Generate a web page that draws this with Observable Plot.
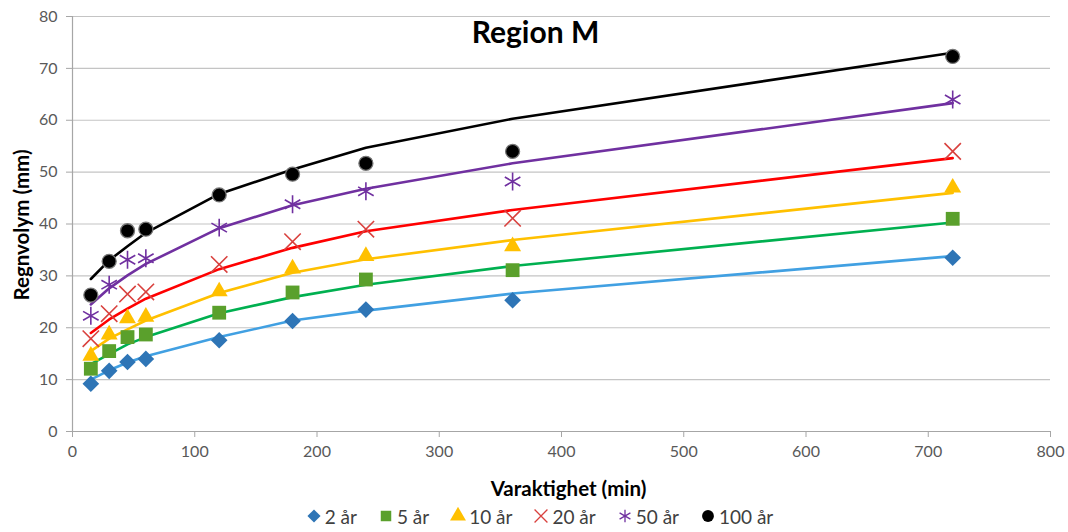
<!DOCTYPE html>
<html><head><meta charset="utf-8">
<script src="https://cdn.jsdelivr.net/npm/d3@7"></script>
<script src="https://cdn.jsdelivr.net/npm/@observablehq/plot@0.6"></script>
<style>
body{margin:0;background:#fff;font-family:Lato,"Open Sans",sans-serif;}
#chart svg{display:block;}
#legend{display:flex;justify-content:center;align-items:center;height:32px;font-family:Lato,"Open Sans",sans-serif;font-size:19px;color:#404040;margin-left:10px;}
#legend .item{display:flex;align-items:center;margin:0 10px;}
#legend svg{margin-right:2px;}
</style></head><body>
<div id="chart"></div>
<div id="legend"></div>
<script>
// Data
const durations = [15, 30, 45, 60, 120, 180, 240, 360, 720];
const seriesNames = ["2 år", "5 år", "10 år", "20 år", "50 år", "100 år"];
const obs2   = [9.2, 11.7, 13.4, 14.0, 17.6, 21.3, 23.5, 25.3, 33.5];
const obs5   = [12.1, 15.5, 18.2, 18.7, 22.9, 26.8, 29.3, 31.1, 41.0];
const obs10  = [14.6, 18.7, 21.8, 22.1, 27.0, 31.4, 33.8, 35.7, 47.0];
const obs20  = [17.9, 22.7, 26.5, 26.9, 32.2, 36.6, 39.0, 41.1, 54.0];
const obs50  = [22.3, 28.3, 33.1, 33.4, 39.3, 43.8, 46.3, 48.2, 64.0];
const obs100 = [26.3, 32.8, 38.7, 39.0, 45.6, 49.6, 51.7, 54.0, 72.3];
const fit2   = [10.0, 11.8, 13.3, 14.5, 18.2, 21.4, 23.3, 26.6, 33.8];
const fit5   = [13.0, 14.9, 16.8, 18.2, 22.8, 25.9, 28.3, 31.9, 40.3];
const fit10  = [15.5, 17.9, 19.7, 21.4, 26.7, 30.6, 33.2, 36.9, 46.0];
const fit20  = [19.0, 21.6, 23.7, 25.6, 31.3, 35.4, 38.6, 42.7, 52.7];
const fit50  = [24.5, 27.6, 30.1, 32.3, 39.2, 43.6, 46.8, 51.7, 63.3];
const fit100 = [29.4, 33.0, 35.7, 38.3, 45.8, 50.5, 54.7, 60.3, 73.0];
const xTicks = [0, 100, 200, 300, 400, 500, 600, 700, 800];
const yTicks = [0, 10, 20, 30, 40, 50, 60, 70, 80];
const titleText = "Region M";
const xLabel = "Varaktighet (min)";
const yLabel = "Regnvolym (mm)";

// Styles
const styles = [
  {symbol: "diamond2", marker: "#2E75B6", line: "#41A0E2", filled: true, r: 7.5},
  {symbol: "square", marker: "#5AA02C", line: "#00B050", filled: true, r: 7.8},
  {symbol: "triangle", marker: "#FFC000", line: "#FFC000", filled: true, r: 6.3},
  {symbol: "times", marker: "#D9413E", line: "#FF0000", filled: false, r: 7.5},
  {symbol: "asterisk", marker: "#7030A0", line: "#7030A0", filled: false, r: 8.5},
  {symbol: "circle", marker: "#000000", line: "#000000", filled: true, r: 7}
];
const obsAll = [obs2, obs5, obs10, obs20, obs50, obs100];
const fitAll = [fit2, fit5, fit10, fit20, fit50, fit100];

const rows = [];
seriesNames.forEach((s, i) => durations.forEach((t, j) => rows.push({series: s, idx: i, t, obs: obsAll[i][j], fit: fitAll[i][j]})));

const marks = [
  Plot.gridY(yTicks, {stroke: "#c4c4c4", strokeOpacity: 1, strokeWidth: 1.2}),
  Plot.ruleX([0], {stroke: "#a6a6a6", strokeWidth: 1.2}),
  Plot.ruleY([0], {stroke: "#a6a6a6", strokeWidth: 1.2}),
  Plot.axisX(xTicks, {tickSize: 6, tickPadding: 8, fontSize: 16, fill: "#595959", stroke: "#a6a6a6", label: null}),
  Plot.axisY(yTicks, {tickSize: 6, tickPadding: 9, fontSize: 16, fill: "#595959", stroke: "#a6a6a6", label: null})
];
styles.forEach((st, i) => {
  const d = rows.filter(r => r.idx === i);
  marks.push(Plot.line(d, {x: "t", y: "fit", stroke: st.line, strokeWidth: 2.6}));
});
styles.forEach((st, i) => {
  const d = rows.filter(r => r.idx === i);
  if (st.filled) {
    marks.push(Plot.dot(d, {x: "t", y: "obs", symbol: () => st.symbol, r: st.r, fill: st.marker,
      stroke: st.symbol === "circle" ? "#777" : "none", strokeWidth: st.symbol === "circle" ? 1.3 : 0}));
  } else {
    marks.push(Plot.dot(d, {x: "t", y: "obs", symbol: () => st.symbol, r: st.r, stroke: st.marker, strokeWidth: 1.6, fill: "none"}));
  }
});
marks.push(Plot.text([titleText], {frameAnchor: "top", lineAnchor: "middle", dx: -26, dy: 17, fontSize: 30, fontWeight: "bold", fill: "#000"}));
marks.push(Plot.text([xLabel], {frameAnchor: "bottom", lineAnchor: "middle", dx: 7, dy: 58, fontSize: 20.5, fontWeight: "bold", fill: "#000"}));
marks.push(Plot.text([yLabel], {frameAnchor: "left", textAnchor: "middle", lineAnchor: "middle", dx: -50, dy: 1, rotate: -90, fontSize: 20.5, fontWeight: "bold", fill: "#000"}));

const chart = Plot.plot({
  width: 1068,
  height: 500,
  marginTop: 16,
  marginBottom: 69,
  marginLeft: 72,
  marginRight: 18,
  style: {fontFamily: "Lato, 'Open Sans', sans-serif", background: "#fff", overflow: "visible"},
  x: {domain: [0, 800]},
  y: {domain: [0, 80]},
  symbol: {type: "identity"},
  marks
});
document.getElementById("chart").appendChild(chart);

// Legend
const symbolMap = {diamond2: d3.symbolDiamond2, square: d3.symbolSquare, triangle: d3.symbolTriangle, times: d3.symbolTimes, asterisk: d3.symbolAsterisk, circle: d3.symbolCircle};
const legend = document.getElementById("legend");
styles.forEach((st, i) => {
  const item = document.createElement("div");
  item.className = "item";
  const sym = d3.symbol(symbolMap[st.symbol], 110)();
  const s = `<svg width="18" height="18" viewBox="-9 -9 18 18"><path d="${sym}" ${st.filled ? `fill="${st.marker}"` : `fill="none" stroke="${st.marker}" stroke-width="1.3"`}/></svg>`;
  item.innerHTML = s + `<span>${seriesNames[i]}</span>`;
  legend.appendChild(item);
});
</script>
</body></html>
